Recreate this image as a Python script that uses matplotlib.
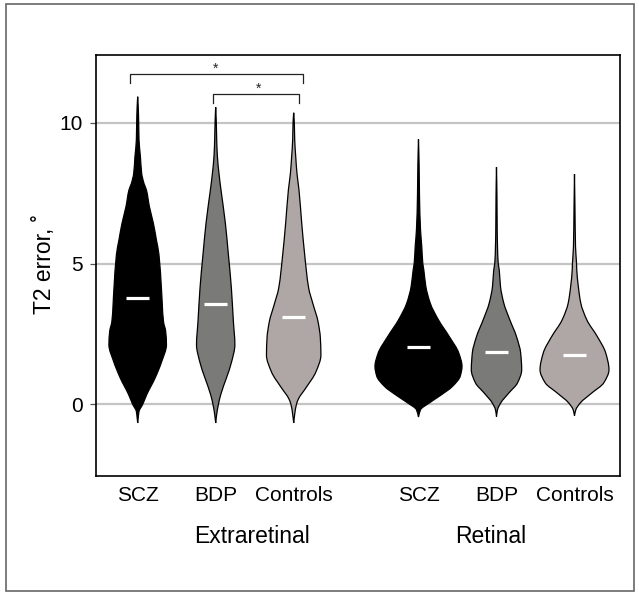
import numpy as np
import matplotlib
matplotlib.use("Agg")
import matplotlib.pyplot as plt
from matplotlib.patches import Rectangle, PathPatch
from matplotlib.path import Path

plt.rcParams['font.family'] = ['Liberation Sans', 'DejaVu Sans']

# ---------------- data ----------------
group_names = ["Extraretinal", "Retinal"]
tick_labels = ["SCZ", "BDP", "Controls", "SCZ", "BDP", "Controls"]
positions = [0.0, 1.0, 2.0, 3.6, 4.6, 5.6]
group_label_x = [1.47, 4.52]
colors = ["#000000", "#7a7a78", "#aea7a5", "#000000", "#7a7a78", "#aea7a5"]

means = [3.77, 3.57, 3.09, 2.02, 1.87, 1.74]

# violin outlines: y levels and half-widths (x-axis units)
ext_scz_y = [-0.66, -0.45, -0.25, 0.0, 0.34, 0.94, 1.52, 2.12, 2.59, 2.94, 4.13, 5.31,
             5.84, 6.43, 7.02, 7.61, 7.84, 8.2, 8.8, 9.39, 9.98, 10.5, 10.92]
ext_scz_w = [0.0, 0.008, 0.017, 0.064, 0.115, 0.224, 0.308, 0.369, 0.359, 0.331, 0.304, 0.273,
             0.240, 0.201, 0.150, 0.112, 0.081, 0.051, 0.035, 0.017, 0.013, 0.008, 0.0]

ext_bdp_y = [-0.66, -0.35, 0.0, 0.34, 0.94, 1.52, 2.12, 2.94, 4.13, 5.31, 6.43, 7.61,
             8.2, 8.8, 9.39, 10.0, 10.55]
ext_bdp_w = [0.0, 0.013, 0.035, 0.064, 0.138, 0.205, 0.246, 0.227, 0.201, 0.163, 0.124, 0.068,
             0.042, 0.022, 0.013, 0.008, 0.0]

ext_con_y = [-0.66, -0.35, 0.0, 0.21, 0.56, 1.16, 1.75, 2.35, 2.94, 3.54, 4.13, 5.31,
             6.43, 7.61, 8.2, 8.8, 9.39, 10.0, 10.35]
ext_con_w = [0.0, 0.013, 0.035, 0.064, 0.150, 0.286, 0.349, 0.342, 0.312, 0.250, 0.192, 0.141,
             0.103, 0.068, 0.042, 0.026, 0.013, 0.008, 0.0]

ret_scz_y = [-0.45, -0.19, 0.05, 0.29, 0.64, 1.0, 1.35, 1.82, 2.41, 3.0, 3.59, 4.19,
             4.78, 5.01, 5.61, 6.2, 7.38, 8.5, 9.41]
ret_scz_w = [0.0, 0.026, 0.138, 0.267, 0.436, 0.535, 0.558, 0.517, 0.394, 0.256, 0.151, 0.094,
             0.068, 0.055, 0.042, 0.026, 0.013, 0.008, 0.0]

ret_bdp_y = [-0.43, -0.19, 0.05, 0.41, 0.76, 1.23, 1.82, 2.41, 3.0, 3.59, 4.19, 4.78,
             5.01, 5.61, 6.2, 7.4, 8.42]
ret_bdp_w = [0.0, 0.013, 0.054, 0.160, 0.269, 0.323, 0.310, 0.256, 0.171, 0.094, 0.051, 0.035,
             0.022, 0.013, 0.009, 0.006, 0.0]

ret_con_y = [-0.40, -0.19, 0.05, 0.41, 0.76, 1.23, 1.82, 2.41, 3.0, 3.59, 4.19, 4.78,
             5.01, 5.61, 7.0, 8.17]
ret_con_w = [0.0, 0.017, 0.074, 0.224, 0.374, 0.442, 0.401, 0.292, 0.158, 0.081, 0.049, 0.029,
             0.026, 0.013, 0.006, 0.0]

violin_y = [ext_scz_y, ext_bdp_y, ext_con_y, ret_scz_y, ret_bdp_y, ret_con_y]
violin_w = [ext_scz_w, ext_bdp_w, ext_con_w, ret_scz_w, ret_bdp_w, ret_con_w]

# significance brackets: (x_left, x_right, y_top, y_tick_bottom)
brackets = [(-0.10, 2.12, 11.72, 11.42), (0.965, 2.07, 11.02, 10.71)]
star_x = [1.0, 1.555]

yticks = [0, 5, 10]


# ---------------- helpers ----------------
def fc_slopes(y, w):
    """Fritsch-Carlson monotone tangents dw/dy at each outline vertex."""
    h = np.diff(y)
    d = np.diff(w) / h
    n = len(y)
    m = np.zeros(n)
    m[0], m[-1] = d[0], d[-1]
    for k in range(1, n - 1):
        if d[k - 1] * d[k] > 0:
            w1 = 2 * h[k] + h[k - 1]
            w2 = h[k] + 2 * h[k - 1]
            m[k] = (w1 + w2) / (w1 / d[k - 1] + w2 / d[k])
    return m


def violin_path(pos, ys, ws):
    y = np.asarray(ys, float)
    w = np.asarray(ws, float)
    m = fc_slopes(y, w)
    verts = [(pos + w[0], y[0])]
    codes = [Path.MOVETO]
    # right side, upward
    for k in range(len(y) - 1):
        h = y[k + 1] - y[k]
        verts += [(pos + w[k] + m[k] * h / 3, y[k] + h / 3),
                  (pos + w[k + 1] - m[k + 1] * h / 3, y[k + 1] - h / 3),
                  (pos + w[k + 1], y[k + 1])]
        codes += [Path.CURVE4] * 3
    # left side, downward
    verts.append((pos - w[-1], y[-1]))
    codes.append(Path.LINETO)
    for k in range(len(y) - 1, 0, -1):
        h = y[k] - y[k - 1]
        verts += [(pos - w[k] + m[k] * h / 3, y[k] - h / 3),
                  (pos - w[k - 1] - m[k - 1] * h / 3, y[k - 1] + h / 3),
                  (pos - w[k - 1], y[k - 1])]
        codes += [Path.CURVE4] * 3
    verts.append((pos + w[0], y[0]))
    codes.append(Path.CLOSEPOLY)
    return Path(verts, codes)


# ---------------- plot ----------------
fig = plt.figure(figsize=(6.39, 5.92), dpi=100)
ax = fig.add_axes([0.1498, 0.1965, 0.8209, 0.7101])

for yt in yticks:
    ax.axhline(yt, color="#c4c4c4", lw=1.6, zorder=0)

for pos, ys, ws, c, m in zip(positions, violin_y, violin_w, colors, means):
    ax.add_patch(PathPatch(violin_path(pos, ys, ws), facecolor=c, edgecolor="black",
                           linewidth=0.9, zorder=2))
    ax.plot([pos - 0.145, pos + 0.145], [m, m], color="white", lw=2.3,
            solid_capstyle="butt", zorder=3)

for (xl, xr, yt, yb), sx in zip(brackets, star_x):
    ax.plot([xl, xl, xr, xr], [yb, yt, yt, yb], color="#222222", lw=0.9, zorder=3)
    ax.text(sx, yt + 0.05, "*", ha="center", va="baseline", fontsize=10, color="#222222")

ax.set_xlim(-0.538, 6.187)
ax.set_ylim(-2.53, 12.39)
ax.set_yticks(yticks)
ax.set_yticklabels([str(v) for v in yticks])
ax.set_xticks(positions)
ax.set_xticklabels(tick_labels)
ax.tick_params(axis="y", length=4.6, width=0.9, color="#555555", pad=4.7, labelsize=15)
ax.tick_params(axis="x", length=0, pad=7.5, labelsize=15)
for s in ax.spines.values():
    s.set_linewidth(1.2)
    s.set_color("black")

ax.set_ylabel("T2 error, \u02da", fontsize=16.5)
ax.yaxis.set_label_coords(-0.076, 0.504)

for gx, gname in zip(group_label_x, group_names):
    ax.text(gx, -0.1608, gname, transform=ax.get_xaxis_transform(), ha="center",
            va="baseline", fontsize=16.5)

fig.patches.append(Rectangle((5.5 / 639, 1 - 590.7 / 592), (634 - 5.5) / 639, (590.7 - 3.5) / 592,
                             transform=fig.transFigure, fill=False, edgecolor="#666666",
                             linewidth=1.2))

fig.savefig("out.png", dpi=100)
